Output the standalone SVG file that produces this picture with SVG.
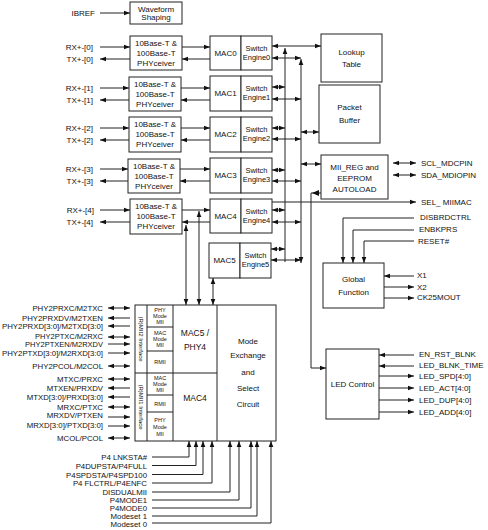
<svg xmlns="http://www.w3.org/2000/svg" width="488" height="530" viewBox="0 0 488 530">
<style>
text{font-family:"Liberation Sans",Arial,sans-serif;font-size:8px;fill:#111}
.c{text-anchor:middle}
.r{text-anchor:end}
.se{font-size:7.5px}
.sm{font-size:5.5px;text-anchor:middle}
.sig{font-size:7.8px;text-anchor:end}
.box{fill:#fff;stroke:#222;stroke-width:1}
.l{fill:none;stroke:#222;stroke-width:1}
.e{marker-end:url(#ah)}
.b{marker-end:url(#ah);marker-start:url(#ah)}
</style>
<defs>
<marker id="ah" viewBox="0 0 6 6" refX="6" refY="3" markerWidth="6" markerHeight="6" orient="auto-start-reverse" markerUnits="userSpaceOnUse"><path d="M0,0.7L6,3L0,5.3z" fill="#111"/></marker>
</defs>
<rect width="488" height="530" fill="#fff"/>

<g id="waveform"><rect class="box" x="130" y="2" width="52" height="22"/><text class="c" x="156" y="11.5">Waveform</text><text class="c" x="156" y="20">Shaping</text></g>

<g id="phy0"><rect class="box" x="130" y="36" width="52" height="34"/><text class="c" x="156" y="46">10Base-T &amp;</text><text class="c" x="156" y="56">100Base-T</text><text class="c" x="156" y="66">PHYceiver</text></g>
<g id="phy1"><rect class="box" x="129" y="77" width="52" height="34"/><text class="c" x="155" y="87">10Base-T &amp;</text><text class="c" x="155" y="97">100Base-T</text><text class="c" x="155" y="107">PHYceiver</text></g>
<g id="phy2"><rect class="box" x="129" y="117" width="52" height="35"/><text class="c" x="155" y="127">10Base-T &amp;</text><text class="c" x="155" y="137">100Base-T</text><text class="c" x="155" y="147">PHYceiver</text></g>
<g id="phy3"><rect class="box" x="128" y="159" width="52" height="34"/><text class="c" x="154" y="169">10Base-T &amp;</text><text class="c" x="154" y="179">100Base-T</text><text class="c" x="154" y="189">PHYceiver</text></g>
<g id="phy4"><rect class="box" x="130" y="199" width="52" height="35"/><text class="c" x="156" y="209">10Base-T &amp;</text><text class="c" x="156" y="219">100Base-T</text><text class="c" x="156" y="229">PHYceiver</text></g>

<g id="mac0"><rect class="box" x="210" y="36" width="31" height="34"/><text class="c" x="225.5" y="56">MAC0</text></g>
<g id="se0"><rect class="box" x="241" y="36" width="31" height="34"/><text class="c se" x="256.5" y="50.5">Switch</text><text class="c se" x="256.5" y="59.5">Engine0</text></g>
<g id="mac1"><rect class="box" x="210" y="76" width="31" height="35"/><text class="c" x="225.5" y="96">MAC1</text></g>
<g id="se1"><rect class="box" x="241" y="76" width="31" height="35"/><text class="c se" x="256.5" y="90.5">Switch</text><text class="c se" x="256.5" y="99.5">Engine1</text></g>
<g id="mac2"><rect class="box" x="210" y="117" width="31" height="35"/><text class="c" x="225.5" y="137">MAC2</text></g>
<g id="se2"><rect class="box" x="241" y="117" width="31" height="35"/><text class="c se" x="256.5" y="131.5">Switch</text><text class="c se" x="256.5" y="140.5">Engine2</text></g>
<g id="mac3"><rect class="box" x="210" y="158" width="31" height="35"/><text class="c" x="225.5" y="178">MAC3</text></g>
<g id="se3"><rect class="box" x="241" y="158" width="31" height="35"/><text class="c se" x="256.5" y="172.5">Switch</text><text class="c se" x="256.5" y="181.5">Engine3</text></g>
<g id="mac4"><rect class="box" x="210" y="199" width="31" height="34"/><text class="c" x="225.5" y="219">MAC4</text></g>
<g id="se4"><rect class="box" x="241" y="199" width="31" height="34"/><text class="c se" x="256.5" y="213.5">Switch</text><text class="c se" x="256.5" y="222.5">Engine4</text></g>
<g id="mac5"><rect class="box" x="209" y="243" width="31" height="35"/><text class="c" x="224.5" y="263">MAC5</text></g>
<g id="se5"><rect class="box" x="240" y="243" width="31" height="35"/><text class="c se" x="255.5" y="257.5">Switch</text><text class="c se" x="255.5" y="266.5">Engine5</text></g>

<g id="lookup"><rect class="box" x="321" y="34" width="61" height="48"/><text class="c" x="351.5" y="55">Lookup</text><text class="c" x="351.5" y="67">Table</text></g>
<g id="packet"><rect class="box" x="319" y="85" width="61" height="58"/><text class="c" x="349.5" y="110">Packet</text><text class="c" x="349.5" y="123">Buffer</text></g>
<g id="miireg"><rect class="box" x="321" y="155" width="67" height="44"/><text class="c" x="354.5" y="170">MII_REG and</text><text class="c" x="354.5" y="181">EEPROM</text><text class="c" x="354.5" y="192">AUTOLOAD</text></g>
<g id="global"><rect class="box" x="323" y="263" width="61" height="45"/><text class="c" x="353.5" y="282">Global</text><text class="c" x="353.5" y="295">Function</text></g>
<g id="led"><rect class="box" x="326" y="349" width="53" height="70"/><text class="c" x="352.5" y="387">LED Control</text></g>

<g id="modeblock">
<rect class="box" x="135" y="305" width="141" height="136"/>
<path class="l" d="M147,305V441M173,305V441M217,305V441M135,373H217M147,327H173M147,351H173M147,395H173M147,412H173"/>
<text transform="translate(139,339) rotate(90)" style="font-size:6px" class="c">(R)MII2 Interface</text>
<text transform="translate(139,407) rotate(90)" style="font-size:6px" class="c">(R)MII1 Interface</text>
<text class="sm" x="160" y="312">PHY</text><text class="sm" x="160" y="318">Mode</text><text class="sm" x="160" y="324">MII</text>
<text class="sm" x="160" y="335">MAC</text><text class="sm" x="160" y="341">Mode</text><text class="sm" x="160" y="347">MII</text>
<text class="sm" x="160" y="364">RMII</text>
<text class="sm" x="160" y="380">MAC</text><text class="sm" x="160" y="386">Mode</text><text class="sm" x="160" y="392">MII</text>
<text class="sm" x="160" y="405.5">RMII</text>
<text class="sm" x="160" y="422">PHY</text><text class="sm" x="160" y="429">Mode</text><text class="sm" x="160" y="436">MII</text>
<text class="c" style="font-size:8.5px" x="195" y="336">MAC5 /</text>
<text class="c" style="font-size:8.5px" x="195" y="350">PHY4</text>
<text class="c" style="font-size:8.5px" x="195" y="401">MAC4</text>
<text class="c" x="248" y="344">Mode</text>
<text class="c" x="248" y="358">Exchange</text>
<text class="c" x="248" y="375">and</text>
<text class="c" x="248" y="391">Select</text>
<text class="c" x="248" y="407">Circuit</text>
</g>

<g id="labels">
<text class="r" x="95" y="16">IBREF</text>
<text class="r" x="93" y="50">RX+-[0]</text><text class="r" x="93" y="62">TX+-[0]</text>
<text class="r" x="93" y="91">RX+-[1]</text><text class="r" x="93" y="103">TX+-[1]</text>
<text class="r" x="93" y="131">RX+-[2]</text><text class="r" x="93" y="143">TX+-[2]</text>
<text class="r" x="93" y="172">RX+-[3]</text><text class="r" x="93" y="184">TX+-[3]</text>
<text class="r" x="94" y="213">RX+-[4]</text><text class="r" x="93" y="225">TX+-[4]</text>
<text x="421" y="166">SCL_MDCPIN</text>
<text x="421" y="178">SDA_MDIOPIN</text>
<text x="421" y="205">SEL_ MIIMAC</text>
<text x="420" y="220">DISBRDCTRL</text>
<text x="419" y="232">ENBKPRS</text>
<text x="418" y="244">RESET#</text>
<text x="417" y="278">X1</text>
<text x="417" y="290">X2</text>
<text x="417" y="300">CK25MOUT</text>
<text x="419" y="357">EN_RST_BLNK</text>
<text x="419" y="368">LED_BLNK_TIME</text>
<text x="419" y="379">LED_SPD[4:0]</text>
<text x="419" y="391">LED_ACT[4:0]</text>
<text x="419" y="403">LED_DUP[4:0]</text>
<text x="419" y="415">LED_ADD[4:0]</text>
<text class="sig" x="103" y="311">PHY2PRXC/M2TXC</text>
<text class="sig" x="103" y="320.5">PHY2PRXDV/M2TXEN</text>
<text class="sig" x="103" y="328.5">PHY2PRXD[3:0]/M2TXD[3:0]</text>
<text class="sig" x="103" y="339" style="font-size:7.5px">PHY2PTXC/M2RXC</text>
<text class="sig" x="103" y="347" style="font-size:7.5px">PHY2PTXEN/M2RXDV</text>
<text class="sig" x="103" y="356">PHY2PTXD[3:0]/M2RXD[3:0]</text>
<text class="sig" x="103" y="369">PHY2PCOL/M2COL</text>
<text class="sig" x="103" y="382">MTXC/PRXC</text>
<text class="sig" x="103" y="391">MTXEN/PRXDV</text>
<text class="sig" x="103" y="400">MTXD[3:0]/PRXD[3:0]</text>
<text class="sig" x="103" y="410">MRXC/PTXC</text>
<text class="sig" x="103" y="418">MRXDV/PTXEN</text>
<text class="sig" x="103" y="428">MRXD[3:0]/PTXD[3:0]</text>
<text class="sig" x="103" y="441">MCOL/PCOL</text>
<text class="sig" x="147" y="460">P4 LNKSTA#</text>
<text class="sig" x="147" y="468.5">P4DUPSTA/P4FULL</text>
<text class="sig" x="147" y="477.5">P4SPDSTA/P4SPD100</text>
<text class="sig" x="147" y="486">P4 FLCTRL/P4ENFC</text>
<text class="sig" x="147" y="495">DISDUALMII</text>
<text class="sig" x="147" y="503">P4MODE1</text>
<text class="sig" x="147" y="511">P4MODE0</text>
<text class="sig" x="147" y="519">Modeset 1</text>
<text class="sig" x="147" y="526.5">Modeset 0</text>
</g>

<g id="connectors">
<path class="l e" d="M100,13H130"/>
<path class="l e" d="M100,47H130"/><path class="l e" d="M130,59H100"/>
<path class="l e" d="M100,88H129"/><path class="l e" d="M129,100H100"/>
<path class="l e" d="M100,128H129"/><path class="l e" d="M129,140H100"/>
<path class="l e" d="M100,169H128"/><path class="l e" d="M128,181H100"/>
<path class="l e" d="M100,210H130"/><path class="l e" d="M130,222H100"/>

<path class="l e" d="M182,47H210"/><path class="l e" d="M210,59H182"/>
<path class="l e" d="M181,88H210"/><path class="l e" d="M210,100H181"/>
<path class="l e" d="M181,128H210"/><path class="l e" d="M210,140H181"/>
<path class="l e" d="M180,169H210"/><path class="l e" d="M210,181H180"/>
<path class="l e" d="M182,210H210"/><path class="l e" d="M210,222H182"/>

<path class="l e" d="M285,262V48"/>
<path class="l b" d="M301,263V59"/>

<path class="l b" d="M272,46H321"/>
<path class="l b" d="M272,58H301"/>
<path class="l b" d="M272,87H285"/><path class="l b" d="M272,99H301"/>
<path class="l b" d="M272,128H285"/><path class="l b" d="M272,139H301"/>
<path class="l b" d="M272,170H285"/><path class="l b" d="M272,181H301"/>
<path class="l b" d="M272,210H285"/><path class="l b" d="M272,222H301"/>
<path class="l b" d="M271,249H285"/><path class="l b" d="M271,260H301"/>

<path class="l b" d="M301,132H319"/>
<path class="l b" d="M301,164H321"/>
<path class="l b" d="M393,163H416"/>
<path class="l b" d="M393,175H416"/>
<path class="l e" d="M272,202H416"/>

<path class="l e" d="M414,218H343V263"/>
<path class="l e" d="M414,230H353V263"/>
<path class="l e" d="M414,241H364V263"/>
<path class="l e" d="M414,276H384"/>
<path class="l e" d="M384,287H414"/>
<path class="l e" d="M384,298H414"/>

<path class="l e" d="M321,193H311V368H326"/>
<polygon points="312,193 319,190 319,196" fill="#111"/>

<path class="l e" d="M414,355H379"/>
<path class="l e" d="M414,366H379"/>
<path class="l e" d="M379,376H414"/>
<path class="l e" d="M379,388H414"/>
<path class="l e" d="M379,400H414"/>
<path class="l e" d="M379,412H414"/>

<path class="l b" d="M186,305V225"/>
<path class="l b" d="M199,305V211"/>
<path class="l b" d="M213,278V305"/>

<path class="l b" d="M108,308H130"/>
<path class="l e" d="M130,318H108"/>
<path class="l e" d="M130,326H108"/>
<path class="l b" d="M108,337H130"/>
<path class="l e" d="M108,344H130"/>
<path class="l e" d="M108,353H130"/>
<path class="l b" d="M108,366H130"/>
<path class="l b" d="M108,379H130"/>
<path class="l e" d="M130,388H108"/>
<path class="l e" d="M130,397H108"/>
<path class="l b" d="M108,407H130"/>
<path class="l e" d="M108,417H130"/>
<path class="l e" d="M108,426H130"/>
<path class="l b" d="M108,438H130"/>

<path class="l e" d="M152,457H189V441"/>
<path class="l e" d="M152,465.5H196V441"/>
<path class="l e" d="M152,474.5H203V441"/>
<path class="l e" d="M152,483H212V441"/>
<path class="l e" d="M152,492H230V441"/>
<path class="l e" d="M152,500H239V441"/>
<path class="l e" d="M152,508H251V441"/>
<path class="l e" d="M152,516H257V441"/>
<path class="l e" d="M152,523H271V441"/>
</g>
</svg>
